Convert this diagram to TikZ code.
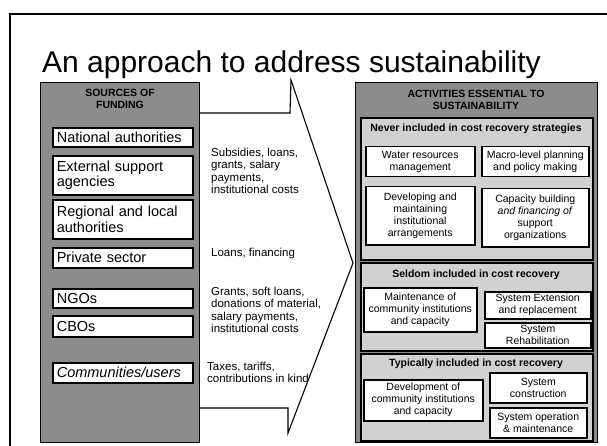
\documentclass[tikz,border=0pt]{standalone}
\usepackage{fontspec}
\setmainfont{Liberation Sans}
\begin{document}
\begin{tikzpicture}[x=1pt,y=-1pt,
  panel/.style={draw, line width=1.2pt, fill=black!45, anchor=north west, inner sep=0pt},
  section/.style={draw, line width=2pt, fill=black!18, anchor=north west, inner sep=0pt},
  srcbox/.style={draw, line width=1.6pt, fill=white, anchor=north west, align=left, inner xsep=4pt, inner ysep=0pt, font=\fontsize{14.5}{15.5}\selectfont},
  actbox/.style={draw, line width=1.5pt, fill=white, anchor=north west, align=center, inner sep=0pt, font=\fontsize{10.5}{12}\selectfont},
  hdr/.style={font=\bfseries\fontsize{10.5}{12}\selectfont, align=center, inner sep=0pt},
  flow/.style={anchor=north west, align=left, inner sep=0pt, font=\fontsize{11.5}{12.5}\selectfont},
  arrowline/.style={line width=1.1pt, line join=miter},
  frameline/.style={line width=2pt}]
\useasboundingbox (0,0) rectangle (607,446);
\fill[white] (0,0) rectangle (607,446);
% frame
\coordinate (fbl) at (10,446);
\coordinate (ftl) at (10,14);
\coordinate (ftr) at (607,14);
\draw[frameline] (fbl) -- (ftl) -- (ftr);
% title
\node[anchor=base west, inner sep=0pt, font=\fontsize{30}{32}\selectfont] (title) at (42,73) {An approach to address sustainability};
% left panel
\node[panel, minimum width=159pt, minimum height=360pt] (left) at (40,82) {};
\node[hdr] (lhdr) at (120,99) {SOURCES OF\\FUNDING};
\node[srcbox, text width=132pt, minimum height=19pt] (nat) at (52,127) {National authorities};
\node[srcbox, text width=132pt, minimum height=39pt] (ext) at (52,155) {External support\\agencies};
\node[srcbox, text width=132pt, minimum height=39pt] (reg) at (52,199) {Regional and local\\authorities};
\node[srcbox, text width=132pt, minimum height=20pt] (priv) at (52,247) {Private sector};
\node[srcbox, text width=132pt, minimum height=19pt] (ngo) at (52,288) {NGOs};
\node[srcbox, text width=132pt, minimum height=21pt] (cbo) at (52,315) {CBOs};
\node[srcbox, text width=132pt, minimum height=20pt] (com) at (52,362) {\itshape Communities/users};
% arrow
\coordinate (a1) at (199,113);
\coordinate (a2) at (290,113);
\coordinate (a3) at (291,80);
\coordinate (tip) at (353,263);
\coordinate (a5) at (288,433);
\coordinate (a6) at (288,408);
\coordinate (a7) at (199,408);
\draw[arrowline] (a1) -- (a2) -- (a3) -- (tip) -- (a5) -- (a6) -- (a7);
% flow texts
\node[flow] (f1) at (211,147.5) {Subsidies, loans,\\grants, salary\\payments,\\institutional costs};
\node[flow] (f2) at (211,247.5) {Loans, financing};
\node[flow] (f3) at (211,286.5) {Grants, soft loans,\\donations of material,\\salary payments,\\institutional costs};
\node[flow] (f4) at (207,361.5) {Taxes, tariffs,\\contributions in kind};
% right panel
\node[panel, minimum width=242pt, minimum height=360pt] (right) at (355,82) {};
\node[hdr] (rhdr) at (476,100) {ACTIVITIES ESSENTIAL TO\\SUSTAINABILITY};
% section 1
\node[section, minimum width=232pt, minimum height=142pt] (sec1) at (360,117) {};
\node[hdr] (h1) at (476,129) {Never included in cost recovery strategies};
\node[actbox, minimum width=109pt, minimum height=30pt] (water) at (365,146) {Water resources\\management};
\node[actbox, minimum width=107pt, minimum height=30pt] (macro) at (481,146) {Macro-level planning\\and policy making};
\node[actbox, minimum width=109pt, minimum height=58pt] (devm) at (365,186) {Developing and\\maintaining\\institutional\\arrangements};
\node[actbox, minimum width=107pt, minimum height=58pt] (cap) at (481,188) {Capacity building\\\textit{and financing of}\\support\\organizations};
% section 2
\node[section, minimum width=232pt, minimum height=88pt] (sec2) at (360,262) {};
\node[hdr] (h2) at (476,275) {Seldom included in cost recovery};
\node[actbox, minimum width=113pt, minimum height=44pt] (maint) at (363,287) {Maintenance of\\community institutions\\and capacity};
\node[actbox, minimum width=106pt, minimum height=27pt] (extn) at (484,291) {System Extension\\and replacement};
\node[actbox, minimum width=106pt, minimum height=25pt] (rehab) at (484,322) {System\\Rehabilitation};
% section 3
\node[section, minimum width=232pt, minimum height=87pt] (sec3) at (360,353) {};
\node[hdr] (h3) at (476,364) {Typically included in cost recovery};
\node[actbox, minimum width=119pt, minimum height=41pt] (devc) at (363,379) {Development of\\community institutions\\and capacity};
\node[actbox, minimum width=97pt, minimum height=30pt] (cons) at (489,372) {System\\construction};
\node[actbox, minimum width=97pt, minimum height=30pt] (om) at (489,407) {System operation\\\&{} maintenance};
\end{tikzpicture}
\end{document}
